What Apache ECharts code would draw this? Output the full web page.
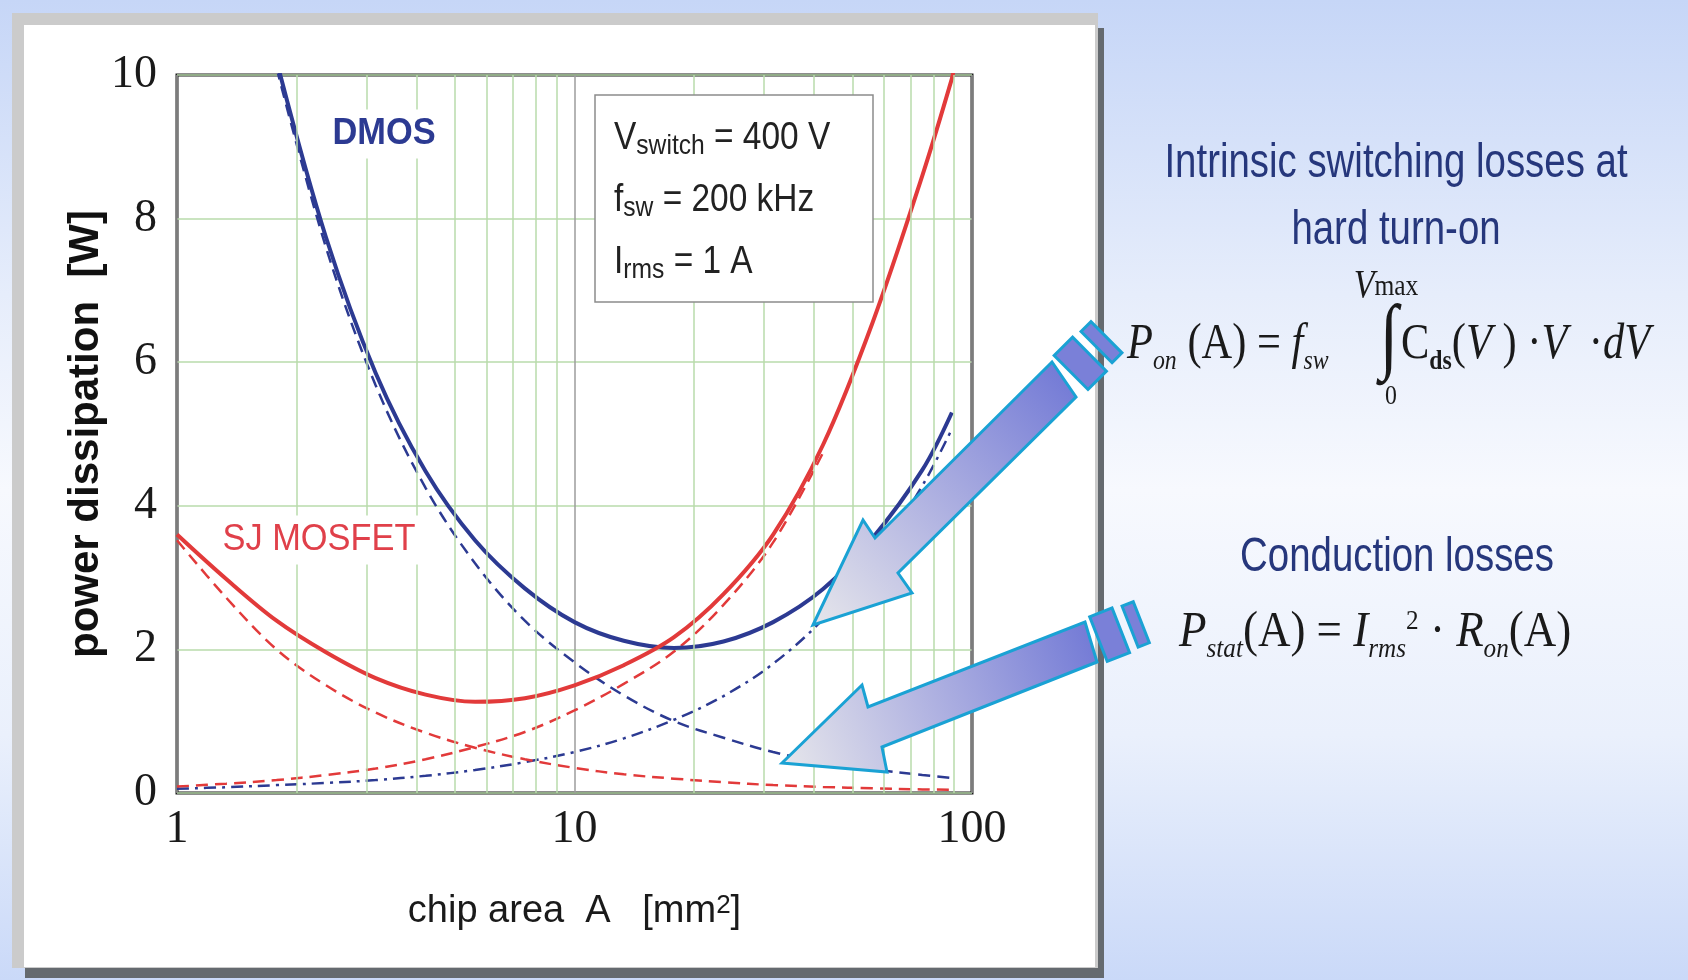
<!DOCTYPE html>
<html>
<head>
<meta charset="utf-8">
<title>power dissipation vs chip area</title>
<script src="https://cdn.jsdelivr.net/npm/echarts@6/dist/echarts.min.js"></script>
<style>
  html, body { margin: 0; padding: 0; background: #fff; }
  #chart { width: 1688px; height: 980px; }
</style>
</head>
<body>
<div id="chart"></div>
<script>
// chip area A [mm2] (log axis) against power dissipation [W]
var minorGrid = [2, 3, 4, 5, 6, 7, 8, 9, 20, 30, 40, 50, 60, 70, 80, 90];
var yTicks = [0, 2, 4, 6, 8, 10];

var area = [1, 1.33, 1.78, 2.37, 3.16, 4.22, 5.62, 7.5, 10, 13.3, 17.8, 23.7, 31.6, 42.2, 56.2, 75, 89];

// DMOS: total, conduction (dashed), switching (dash-dot)
var dmosTotalA = area.slice(2);
var dmosTotalP = [10.2, 7.74, 5.85, 4.48, 3.52, 2.85, 2.38, 2.12, 2.02, 2.11, 2.38, 2.84, 3.55, 4.5, 5.3];
var dmosCondA = area.slice(2);
var dmosCondP = [10.1, 7.6, 5.68, 4.25, 3.2, 2.4, 1.82, 1.36, 1.0, 0.77, 0.57, 0.43, 0.33, 0.25, 0.21];
var dmosSwA = area;
var dmosSwP = [0.06, 0.08, 0.11, 0.14, 0.18, 0.24, 0.32, 0.43, 0.57, 0.76, 1.02, 1.35, 1.8, 2.42, 3.22, 4.28, 5.07];

// SJ MOSFET: total, conduction (dashed), switching (dashed)
var sjTotalA = area.concat([90]);
var sjTotalP = [3.6, 2.98, 2.4, 1.96, 1.6, 1.37, 1.27, 1.32, 1.5, 1.78, 2.17, 2.77, 3.6, 4.85, 6.55, 8.6, 9.95, 10.1];
var sjCondA = area;
var sjCondP = [3.52, 2.72, 2.0, 1.5, 1.12, 0.84, 0.63, 0.47, 0.35, 0.26, 0.2, 0.15, 0.11, 0.085, 0.065, 0.05, 0.045];
var sjSwA = area.slice(0, 14);
var sjSwP = [0.09, 0.13, 0.18, 0.25, 0.34, 0.47, 0.64, 0.85, 1.15, 1.52, 1.97, 2.62, 3.49, 4.74];

var SANS = "'Liberation Sans', Arial, Helvetica, sans-serif";
var SERIF = "'Liberation Serif', 'Times New Roman', serif";
var BLUE = '#2c3a92', RED = '#e23a3a', NAVY = '#26377c', CYAN = '#1aa2d4';

var myChart = echarts.init(document.getElementById('chart'));

function pts(xs, ys) {
    return xs.map(function (x, i) { return [x, ys[i]]; });
}

function curve(name, xs, ys, color, dash, width) {
    return {
        name: name, type: 'line', data: pts(xs, ys), smooth: 0.35,
        showSymbol: false, silent: true, z: 3,
        lineStyle: { color: color, width: width, type: dash }
    };
}

function txt(x, y, text, style, sx, z) {
    return {
        type: 'text', x: x, y: y, scaleX: sx || 1, z: z || 60, silent: true,
        style: Object.assign({ text: text, x: 0, y: 0, verticalAlign: 'middle' }, style)
    };
}

// arrow decoration: body polygon plus two broken pieces behind the tail
function piece(c, u, a0, a1, h) {
    var p = [-u[1], u[0]];
    var q = function (a, s) { return [c[0] + u[0] * a + p[0] * h * s, c[1] + u[1] * a + p[1] * h * s]; };
    return {
        type: 'polygon', z: 55, silent: true,
        shape: { points: [q(a0, 1), q(a1, 1), q(a1, -1), q(a0, -1)] },
        style: { fill: '#7a80d8', stroke: CYAN, lineWidth: 3 }
    };
}

function arrow(points, tail, tip, u, cuts) {
    return [{
        type: 'polygon', z: 55, silent: true,
        shape: { points: points },
        style: {
            fill: new echarts.graphic.LinearGradient(tail[0], tail[1], tip[0], tip[1], [
                { offset: 0, color: '#757cd6' },
                { offset: 0.55, color: '#b4b6e2' },
                { offset: 1, color: '#e6e6eb' }
            ], true),
            stroke: CYAN, lineWidth: 3
        }
    }, piece(tail, u, cuts[0], cuts[1], 24), piece(tail, u, cuts[2], cuts[3], 22)];
}

var sub = { fontSize: 28, lineHeight: 16, verticalAlign: 'bottom', fontFamily: SANS, fill: '#222' };
var main = { fontSize: 38, lineHeight: 40, verticalAlign: 'top', fontFamily: SANS, fill: '#222' };

// formula styles: subscripts pushed down with top padding
var fi = { fontSize: 50, lineHeight: 44, verticalAlign: 'top', fontFamily: SERIF, fontStyle: 'italic', fill: '#1a1a1a' };
var fr = { fontSize: 50, lineHeight: 44, verticalAlign: 'top', fontFamily: SERIF, fill: '#1a1a1a' };
var fis = { fontSize: 28, lineHeight: 20, padding: [28, 0, 0, 0], verticalAlign: 'top', fontFamily: SERIF, fontStyle: 'italic', fill: '#1a1a1a' };
var frs = { fontSize: 28, lineHeight: 20, padding: [28, 0, 0, 0], verticalAlign: 'top', fontFamily: SERIF, fontWeight: 'bold', fill: '#1a1a1a' };
var fsup = { fontSize: 28, lineHeight: 14, verticalAlign: 'top', fontFamily: SERIF, fill: '#1a1a1a' };

var graphics = [
    // slide background and white panel
    { type: 'rect', z: -10, silent: true, shape: { x: 0, y: 0, width: 1688, height: 980 },
      style: { fill: new echarts.graphic.LinearGradient(0, 0, 0, 1, [
          { offset: 0, color: '#c6d6f7' }, { offset: 0.3, color: '#e6edfb' },
          { offset: 0.5, color: '#f7f9fe' }, { offset: 0.75, color: '#eaf0fc' },
          { offset: 1, color: '#cad9f8' }]) } },
    { type: 'rect', z: -9, silent: true, shape: { x: 25, y: 28, width: 1079, height: 950 }, style: { fill: '#656a6f' } },
    { type: 'rect', z: -9, silent: true, shape: { x: 12, y: 13, width: 1086, height: 955 }, style: { fill: '#cbcbcb' } },
    { type: 'rect', z: -8, silent: true, shape: { x: 24, y: 25, width: 1071, height: 942 }, style: { fill: '#ffffff' } },

    // parameter box
    { type: 'rect', z: 50, silent: true, shape: { x: 595, y: 95, width: 278, height: 207 },
      style: { fill: '#fff', stroke: '#8c8c8c', lineWidth: 1.5 } },
    txt(614, 140, '{m|V}{s|switch}{m| = 400 V}', { rich: { m: main, s: sub } }, 0.88),
    txt(614, 202, '{m|f}{s|sw}{m| = 200 kHz}', { rich: { m: main, s: sub } }, 0.88),
    txt(614, 264, '{m|I}{s|rms}{m| = 1 A}', { rich: { m: main, s: sub } }, 0.88),

    // curve labels
    txt(384, 134, 'DMOS', { fontFamily: SANS, fontSize: 37, fontWeight: 'bold', fill: BLUE, align: 'center',
        backgroundColor: '#fff', padding: [6, 8] }, 0.93),
    txt(319, 540, 'SJ MOSFET', { fontFamily: SANS, fontSize: 37, fill: '#e0404a', align: 'center',
        backgroundColor: '#fff', padding: [6, 8] }, 0.93),

    // right side annotations
    txt(1396, 164, 'Intrinsic switching losses at', { fontFamily: SANS, fontSize: 48, fill: NAVY, align: 'center' }, 0.8),
    txt(1396, 231, 'hard turn-on', { fontFamily: SANS, fontSize: 48, fill: NAVY, align: 'center' }, 0.8),
    txt(1397, 558, 'Conduction losses', { fontFamily: SANS, fontSize: 48, fill: NAVY, align: 'center' }, 0.8),

    txt(1127, 342, '{i|P}{is|on}{r| (A) = }{i|f}{is|sw}', { rich: { i: fi, r: fr, is: fis } }, 0.85),
    txt(1389, 341, '\u222B', { fontFamily: SERIF, fontSize: 84, fill: '#1a1a1a', align: 'center' }, 0.8),
    txt(1386, 284, '{i|V}{r|max}', { align: 'center', rich: {
        i: { fontSize: 40, fontFamily: SERIF, fontStyle: 'italic', fill: '#1a1a1a', lineHeight: 36, verticalAlign: 'top' },
        r: { fontSize: 30, fontFamily: SERIF, fill: '#1a1a1a', lineHeight: 20, verticalAlign: 'bottom' } } }, 0.85),
    txt(1391, 397, '0', { fontFamily: SERIF, fontSize: 28, fill: '#1a1a1a', align: 'center' }, 0.85),
    txt(1401, 342, '{r|C}{rs|ds}{r|(}{i|V}{r| ) \u00B7}{i|V}{r|  \u00B7}{i|dV}', { rich: { i: fi, r: fr, rs: frs } }, 0.85),

    txt(1179, 630, '{i|P}{is|stat}{r|(A) = }{i|I}{is|rms}{sup|2}{r| \u00B7 }{i|R}{is|on}{r|(A)}',
        { rich: { i: fi, r: fr, is: fis, sup: fsup } }, 0.9)
];

graphics = graphics.concat(
    arrow([[813, 625], [863, 520], [875, 538], [1052, 362], [1076, 397], [898, 573], [912, 593]],
          [1064, 379.5], [813, 625], [0.708, -0.704], [10, 36, 46, 60]),
    arrow([[782, 763], [862, 685], [868, 707], [1085, 622], [1097, 662], [882, 747], [887, 772]],
          [1091, 642], [782, 763], [0.931, -0.365], [8, 32, 42, 54])
);

var option = {
    animation: false,
    grid: {
        left: 177, top: 75, width: 795, height: 718,
        show: true, backgroundColor: '#fff', borderColor: '#1c1c1c', borderWidth: 3
    },
    xAxis: {
        type: 'log', logBase: 10, min: 1, max: 100,
        name: '{n|chip area  A   [mm}{sup|2}{n|]}',
        nameLocation: 'middle', nameGap: 100,
        nameTextStyle: {
            rich: {
                n: { fontFamily: SANS, fontSize: 38, color: '#1a1a1a', lineHeight: 40, verticalAlign: 'top' },
                sup: { fontFamily: SANS, fontSize: 26, color: '#1a1a1a', lineHeight: 14, verticalAlign: 'top' }
            }
        },
        axisLine: { show: false },
        axisTick: { show: false },
        axisLabel: { fontFamily: SERIF, fontSize: 46, color: '#1a1a1a', margin: 14 },
        splitLine: { show: true, lineStyle: { color: '#9c9c9c', width: 1.5 } }
    },
    yAxis: {
        type: 'value', min: yTicks[0], max: yTicks[yTicks.length - 1], interval: 2,
        name: 'power dissipation  [W]',
        nameLocation: 'middle', nameGap: 70, nameRotate: 90,
        nameTextStyle: { fontFamily: SANS, fontSize: 42, fontWeight: 'bold', color: '#111' },
        axisLine: { show: false },
        axisTick: { show: false },
        axisLabel: { fontFamily: SERIF, fontSize: 46, color: '#1a1a1a', margin: 20, padding: [16, 0, 0, 0] },
        splitLine: { show: true, lineStyle: { color: '#b8dbab', width: 1.5 } }
    },
    graphic: { elements: graphics },
    series: [
        {
            type: 'line', data: [], silent: true, z: 1,
            markLine: {
                silent: true, symbol: 'none', label: { show: false },
                lineStyle: { color: '#b8dbab', width: 1.5, type: 'solid' },
                data: minorGrid.map(function (v) { return { xAxis: v }; })
            }
        },
        curve('DMOS conduction', dmosCondA, dmosCondP, BLUE, [12, 7], 2.5),
        curve('DMOS switching', dmosSwA, dmosSwP, BLUE, [12, 6, 3, 6], 2.5),
        curve('SJ conduction', sjCondA, sjCondP, RED, [12, 7], 2.5),
        curve('SJ switching', sjSwA, sjSwP, RED, [12, 7], 2.5),
        curve('DMOS', dmosTotalA, dmosTotalP, BLUE, 'solid', 4),
        curve('SJ MOSFET', sjTotalA, sjTotalP, RED, 'solid', 4)
    ]
};

myChart.setOption(option);
</script>
</body>
</html>
